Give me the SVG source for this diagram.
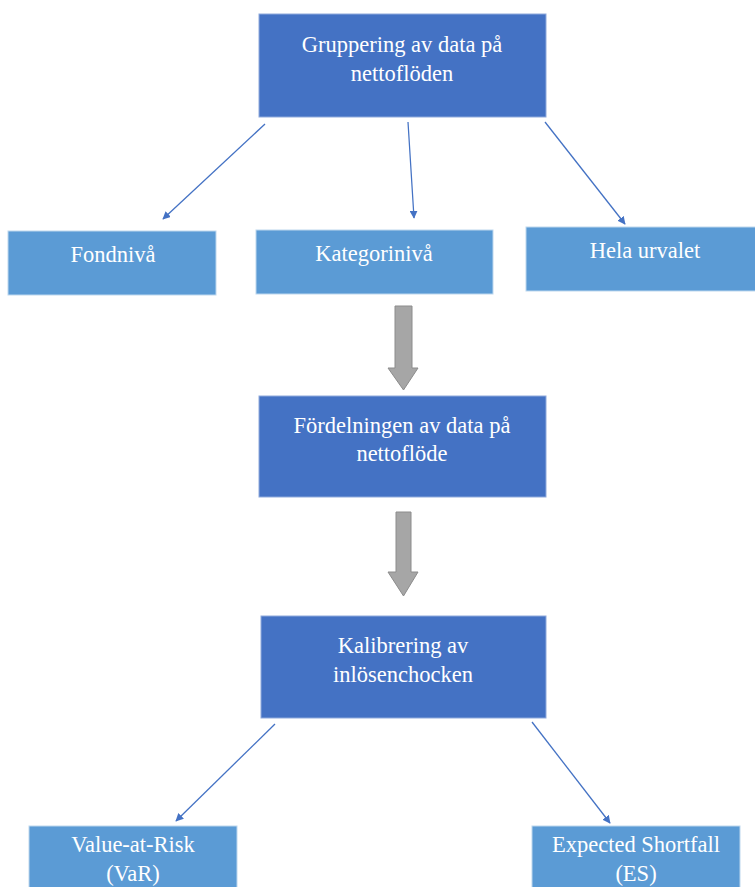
<svg xmlns="http://www.w3.org/2000/svg" width="755" height="887" viewBox="0 0 755 887">
<style>
.dark{fill:#4472C4;stroke:#8FAADC;stroke-width:1}
.light{fill:#5B9BD5;stroke:#BDD7EE;stroke-width:1}
.t{font-family:"Liberation Serif","Times New Roman",serif;font-size:22.5px;fill:#ffffff;text-anchor:middle}
.c{stroke:#4472C4;stroke-width:1.3;fill:none;marker-end:url(#ah)}
.g{fill:#A6A6A6;stroke:#8C8C8C;stroke-width:1}
</style>
<defs>
<marker id="ah" viewBox="0 0 10 10" refX="9" refY="5" markerWidth="8" markerHeight="8" markerUnits="userSpaceOnUse" orient="auto">
<path d="M0,0 L10,5 L0,10 Z" fill="#4472C4"/>
</marker>
</defs>
<rect width="755" height="887" fill="#ffffff"/>
<g id="connectors">
<line class="c" x1="265" y1="124" x2="163" y2="219"/>
<line class="c" x1="408" y1="122" x2="414" y2="218"/>
<line class="c" x1="545" y1="122" x2="625" y2="224"/>
<path class="g" d="M395,306 H412 V368 H418 L403.5,390 L388,368 H395 Z"/>
<path class="g" d="M396,512 H411 V572 H418 L403.5,596 L388,572 H396 Z"/>
<line class="c" x1="275" y1="724" x2="176" y2="821"/>
<line class="c" x1="532" y1="722" x2="610" y2="823"/>
</g>
<g id="gruppering">
<rect class="dark" x="259" y="14" width="287" height="103"/>
<text class="t" x="402" y="52">Gruppering av data på</text>
<text class="t" x="402" y="81">nettoflöden</text>
</g>
<g id="fondniva">
<rect class="light" x="8" y="231" width="208" height="64"/>
<text class="t" x="113" y="262">Fondnivå</text>
</g>
<g id="kategoriniva">
<rect class="light" x="256" y="230" width="237" height="64"/>
<text class="t" x="374" y="261">Kategorinivå</text>
</g>
<g id="hela">
<rect class="light" x="526" y="227" width="235" height="64"/>
<text class="t" x="645" y="258">Hela urvalet</text>
</g>
<g id="fordelningen">
<rect class="dark" x="259" y="396" width="287" height="101"/>
<text class="t" x="402" y="433">Fördelningen av data på</text>
<text class="t" x="402" y="461">nettoflöde</text>
</g>
<g id="kalibrering">
<rect class="dark" x="261" y="616" width="285" height="102"/>
<text class="t" x="403" y="653">Kalibrering av</text>
<text class="t" x="403" y="682">inlösenchocken</text>
</g>
<g id="var">
<rect class="light" x="29" y="826" width="208" height="70"/>
<text class="t" x="133" y="852">Value-at-Risk</text>
<text class="t" x="133" y="881">(VaR)</text>
</g>
<g id="es">
<rect class="light" x="532" y="826" width="208" height="70"/>
<text class="t" x="636" y="852">Expected Shortfall</text>
<text class="t" x="636" y="881">(ES)</text>
</g>
</svg>
